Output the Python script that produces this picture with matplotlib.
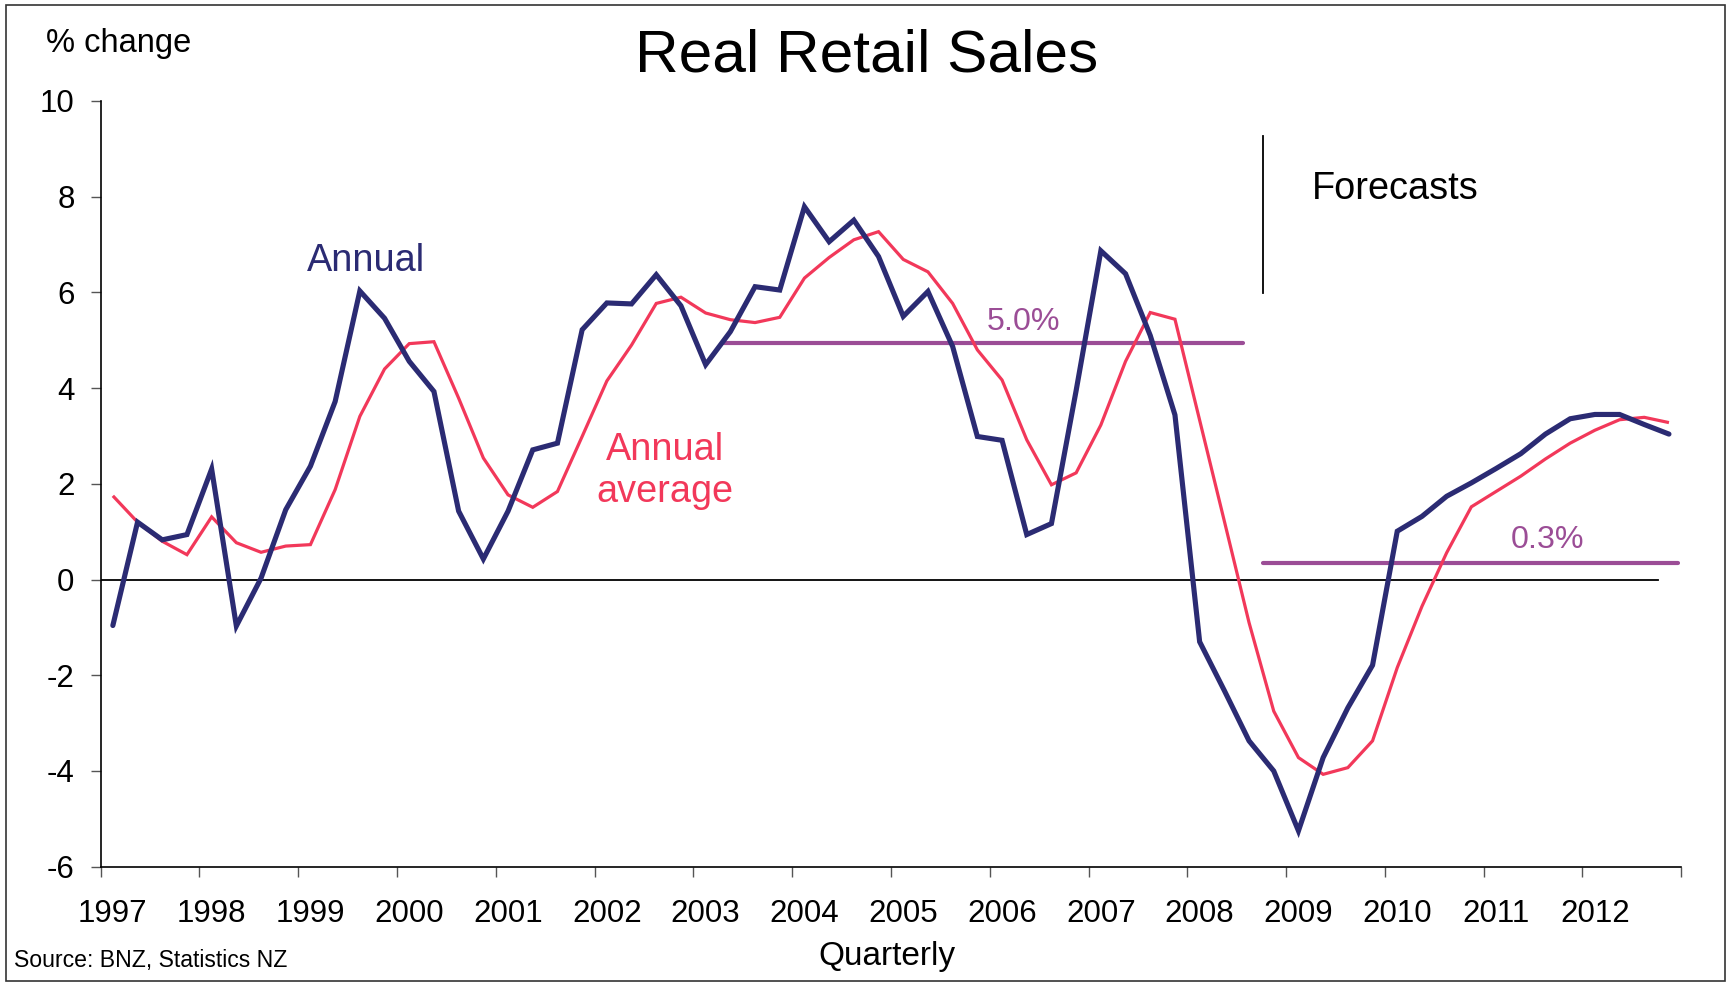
import matplotlib
matplotlib.use("Agg")
import matplotlib.pyplot as plt
from matplotlib.patches import Rectangle

plt.rcParams['font.family'] = ['Liberation Sans', 'DejaVu Sans']

# ---- data (quarterly, 1997 Q1 .. 2012 Q4) ----
years = list(range(1997, 2013))
annual = [-0.96, 1.20, 0.83, 0.94, 2.31, -0.97, 0.03, 1.46,
          2.37, 3.72, 6.03, 5.46, 4.56, 3.93, 1.43, 0.43,
          1.43, 2.71, 2.85, 5.22, 5.78, 5.76, 6.37, 5.72,
          4.49, 5.18, 6.12, 6.05, 7.79, 7.06, 7.51, 6.75,
          5.50, 6.02, 4.87, 2.99, 2.91, 0.94, 1.17, 3.95,
          6.87, 6.39, 5.10, 3.44, -1.30, -2.32, -3.37, -4.00,
          -5.25, -3.72, -2.68, -1.79, 1.01, 1.32, 1.74, 2.02,
          2.32, 2.63, 3.04, 3.36, 3.45, 3.45, 3.24, 3.04]
annual_avg = [1.75, 1.20, 0.80, 0.52, 1.31, 0.77, 0.57, 0.70,
              0.73, 1.88, 3.41, 4.40, 4.93, 4.97, 3.79, 2.54,
              1.77, 1.51, 1.84, 2.99, 4.15, 4.90, 5.77, 5.90,
              5.57, 5.43, 5.37, 5.48, 6.30, 6.73, 7.10, 7.27,
              6.69, 6.43, 5.77, 4.80, 4.17, 2.92, 1.98, 2.23,
              3.23, 4.56, 5.58, 5.44, 3.33, 1.22, -0.90, -2.75,
              -3.72, -4.07, -3.93, -3.37, -1.84, -0.56, 0.56, 1.52,
              1.84, 2.16, 2.52, 2.85, 3.12, 3.34, 3.39, 3.28]
avg_hist = 4.95          # average 2003-2008
avg_hist_span = (24.75, 45.77)
avg_fcst = 0.35          # average forecast period
avg_fcst_span = (46.55, 63.35)
forecast_start = 46.55
yticks = list(range(-6, 11, 2))

NAVY = '#2b2b73'
PINK = '#f2385a'
PURPLE = '#9b4d96'

W, H = 1732, 982
fig = plt.figure(figsize=(W / 100, H / 100), dpi=100)
ax = fig.add_axes([100.5 / W, (H - 866.7) / H, 1580.8 / W, 765.7 / H])

x = list(range(len(annual)))

# zero line
ax.plot([-0.5, 62.55], [0, 0], color='black', lw=1.3, zorder=2)

# average lines
ax.plot(avg_hist_span, [avg_hist, avg_hist], color=PURPLE, lw=3.0,
        solid_capstyle='round', zorder=3)
ax.plot(avg_fcst_span, [avg_fcst, avg_fcst], color=PURPLE, lw=3.0,
        solid_capstyle='round', zorder=3)

# series
ax.plot(x, annual_avg, color=PINK, lw=2.3, solid_joinstyle='miter',
        solid_capstyle='butt', zorder=4)
ax.plot(x, annual, color=NAVY, lw=3.7, solid_joinstyle='miter',
        solid_capstyle='round', zorder=5)

# forecast marker
ax.plot([forecast_start, forecast_start], [5.99, 9.27], color='black', lw=1.3, zorder=3)

ax.set_xlim(-0.5, 63.5)
ax.set_ylim(-6, 10)

# axes styling
for s in ('top', 'right'):
    ax.spines[s].set_visible(False)
for s in ('left', 'bottom'):
    ax.spines[s].set_color('black')
    ax.spines[s].set_linewidth(1.2)

ax.set_yticks(yticks)
ax.set_yticklabels([str(v) for v in yticks])
ax.tick_params(axis='y', direction='out', length=7.2, width=1.0, color='#555555',
               pad=11.5, labelsize=22.5, labelcolor='black')

ax.set_xticks([i * 4 - 0.5 for i in range(len(years) + 1)])
ax.set_xticklabels([])
ax.set_xticks([i * 4 for i in range(len(years))], minor=True)
ax.set_xticklabels([str(y) for y in years], minor=True)
ax.tick_params(axis='x', which='major', direction='out', length=7.2, width=1.0,
               color='#555555')
ax.tick_params(axis='x', which='minor', length=0, pad=23.5, labelsize=22.5,
               labelcolor='black')

# in-plot labels
ax.text(10.24, 6.45, 'Annual', color=NAVY, fontsize=27.3, ha='center', va='baseline')
ax.text(22.34, 2.49, 'Annual', color=PINK, fontsize=27.3, ha='center', va='baseline')
ax.text(22.34, 1.62, 'average', color=PINK, fontsize=27.3, ha='center', va='baseline')
ax.text(36.85, 5.21, '5.0%', color=PURPLE, fontsize=23.2, ha='center', va='baseline')
ax.text(58.08, 0.65, '0.3%', color=PURPLE, fontsize=23.2, ha='center', va='baseline')
ax.text(48.55, 7.95, 'Forecasts', color='black', fontsize=27.3, ha='left', va='baseline')

# figure texts
fig.text(867 / W, (H - 71) / H, 'Real Retail Sales', fontsize=43.5, ha='center',
         va='baseline', color='black')
fig.text(46 / W, (H - 52) / H, '% change', fontsize=23.5, ha='left', va='baseline')
fig.text(887 / W, (H - 965) / H, 'Quarterly', fontsize=24, ha='center', va='baseline')
fig.text(14.4 / W, (H - 966.7) / H, 'Source: BNZ, Statistics NZ', fontsize=16.6,
         ha='left', va='baseline')

# outer frame
fig.patches.append(Rectangle((5.7 / W, 1.0 / H), (1724.7 - 5.7) / W, (H - 4.7 - 1.0) / H,
                             transform=fig.transFigure, fill=False,
                             edgecolor='#333333', linewidth=1.2))

fig.savefig('out.png', dpi=100)
